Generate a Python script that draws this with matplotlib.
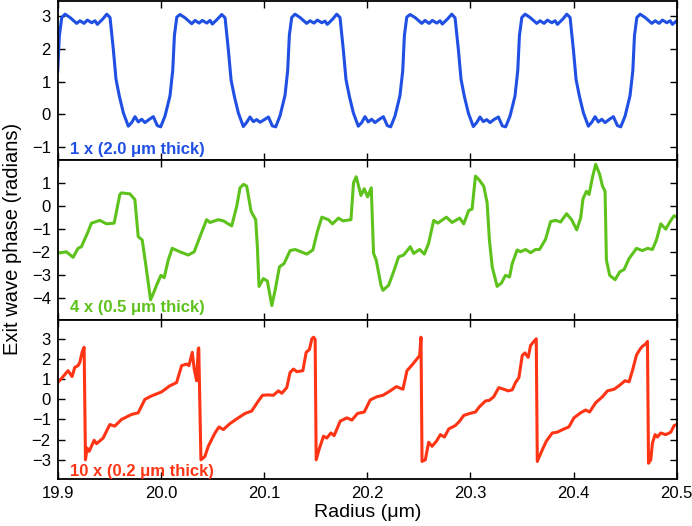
import matplotlib
matplotlib.use("Agg")
import matplotlib.pyplot as plt

plt.rcParams['font.family'] = ['Liberation Sans', 'DejaVu Sans']

# 1 x (2.0 um thick) - blue, binary-like profile
r_1x = [19.900, 19.9016, 19.9039, 19.9071, 19.9119, 19.9184, 19.9216, 19.9255, 19.9287, 19.933, 19.9362, 19.9384,
        19.9436, 19.9475, 19.9507, 19.9539, 19.9565, 19.9597, 19.9636, 19.9684, 19.9717, 19.9749, 19.9781, 19.9814,
        19.9846, 19.9888, 19.9927, 19.9965, 19.9998, 20.004, 20.0088,
        20.0115, 20.0131, 20.0154, 20.0186, 20.0234, 20.0299, 20.0331, 20.037, 20.0402, 20.0445, 20.0477, 20.0499,
        20.0551, 20.059, 20.0622, 20.0654, 20.068, 20.0712, 20.0751, 20.0799, 20.0832, 20.0864, 20.0896, 20.0929,
        20.0961, 20.1003, 20.1042, 20.108, 20.1113, 20.1155, 20.1203,
        20.1229, 20.1245, 20.1268, 20.13, 20.1348, 20.1413, 20.1445, 20.1484, 20.1516, 20.1559, 20.1591, 20.1613,
        20.1665, 20.1704, 20.1736, 20.1768, 20.1794, 20.1826, 20.1865, 20.1913, 20.1946, 20.1978, 20.201, 20.2043,
        20.2075, 20.2117, 20.2156, 20.2194, 20.2227, 20.2269, 20.2317,
        20.2344, 20.236, 20.2383, 20.2415, 20.2463, 20.2528, 20.256, 20.2599, 20.2631, 20.2674, 20.2706, 20.2728,
        20.278, 20.2819, 20.2851, 20.2883, 20.2909, 20.2941, 20.298, 20.3028, 20.3061, 20.3093, 20.3125, 20.3158,
        20.319, 20.3232, 20.3271, 20.3309, 20.3342, 20.3384, 20.3432,
        20.3459, 20.3475, 20.3498, 20.353, 20.3578, 20.3643, 20.3675, 20.3714, 20.3746, 20.3789, 20.3821, 20.3843,
        20.3895, 20.3934, 20.3966, 20.3998, 20.4024, 20.4056, 20.4095, 20.4143, 20.4176, 20.4208, 20.424, 20.4273,
        20.4305, 20.4347, 20.4386, 20.4424, 20.4457, 20.4499, 20.4547,
        20.4574, 20.459, 20.4613, 20.4645, 20.4693, 20.4758, 20.479, 20.4829, 20.4861, 20.4904, 20.4936, 20.4958,
        20.500]
phase_1x = [1.32, 2.39, 2.95, 3.05, 2.95, 2.77, 2.85, 2.77, 2.87, 2.79, 2.85, 2.74,
            2.90, 3.05, 2.95, 1.98, 1.07, 0.56, 0.05, -0.36, -0.25, -0.07, -0.23, -0.15,
            -0.25, -0.15, -0.07, -0.34, -0.38, -0.05, 0.56,
            1.35, 2.40, 2.96, 3.04, 2.94, 2.76, 2.86, 2.78, 2.86, 2.78, 2.86, 2.75,
            2.91, 3.04, 2.94, 1.96, 1.05, 0.55, 0.04, -0.37, -0.24, -0.08, -0.22, -0.16,
            -0.24, -0.16, -0.08, -0.35, -0.38, -0.04, 0.58,
            1.34, 2.41, 2.95, 3.05, 2.95, 2.77, 2.85, 2.78, 2.87, 2.79, 2.84, 2.74,
            2.90, 3.05, 2.95, 1.97, 1.06, 0.56, 0.05, -0.36, -0.25, -0.07, -0.23, -0.15,
            -0.25, -0.15, -0.07, -0.34, -0.38, -0.05, 0.57,
            1.33, 2.40, 2.96, 3.04, 2.95, 2.77, 2.86, 2.77, 2.86, 2.78, 2.85, 2.75,
            2.91, 3.05, 2.94, 1.98, 1.07, 0.55, 0.04, -0.37, -0.25, -0.08, -0.22, -0.16,
            -0.25, -0.15, -0.08, -0.35, -0.38, -0.05, 0.56,
            1.34, 2.40, 2.95, 3.05, 2.95, 2.77, 2.85, 2.77, 2.87, 2.79, 2.85, 2.74,
            2.90, 3.05, 2.95, 1.97, 1.06, 0.56, 0.05, -0.36, -0.24, -0.07, -0.23, -0.15,
            -0.25, -0.15, -0.07, -0.34, -0.38, -0.05, 0.57,
            1.33, 2.40, 2.95, 3.05, 2.95, 2.77, 2.85, 2.77, 2.87, 2.79, 2.85, 2.74,
            2.85]

# 4 x (0.5 um thick) - green
r_4x = [19.900, 19.9084, 19.9149, 19.9197, 19.923, 19.9295, 19.9327, 19.9408, 19.9473, 19.9547, 19.9602, 19.9618,
        19.9699, 19.9748, 19.978, 19.9819, 19.9861, 19.990, 19.9932, 19.9958, 20.000, 20.0032, 20.0071, 20.011,
        20.0184, 20.0265, 20.0323, 20.0379, 20.0443, 20.0476, 20.0556, 20.0605, 20.0686, 20.0735, 20.0767, 20.080,
        20.0832, 20.0874, 20.0919, 20.0935, 20.0951, 20.0993, 20.1032, 20.1075, 20.1107, 20.1149, 20.1194, 20.1252,
        20.1301, 20.1414, 20.1473, 20.1517, 20.156, 20.1624, 20.1663, 20.1721, 20.1764, 20.1842, 20.1867, 20.1893,
        20.1939, 20.1971, 20.2003, 20.2039, 20.2061, 20.2087, 20.2133, 20.2152, 20.2207, 20.2255, 20.2304, 20.2353,
        20.2417, 20.245, 20.2508, 20.2553, 20.2595, 20.2644, 20.2683, 20.2767, 20.2822, 20.2896, 20.2935, 20.2984,
        20.3016, 20.3049, 20.3087, 20.3129, 20.3162, 20.3184, 20.3211, 20.3259, 20.3301, 20.334, 20.3379, 20.3405,
        20.3453, 20.3485, 20.3534, 20.3583, 20.3631, 20.367, 20.3728, 20.3777, 20.3825, 20.3874, 20.3932, 20.3981,
        20.403, 20.4068, 20.4091, 20.4124, 20.415, 20.4182, 20.4214, 20.4253, 20.428, 20.4305, 20.4318, 20.435,
        20.4402, 20.4447, 20.4489, 20.4538, 20.461, 20.4667, 20.4716, 20.4764, 20.4803, 20.4845, 20.4893, 20.4942,
        20.4974, 20.500]
phase_4x = [-2.05, -1.99, -2.23, -1.84, -1.77, -1.11, -0.75, -0.63, -0.78, -0.75, 0.49, 0.56,
            0.52, 0.27, -1.33, -1.48, -2.79, -4.07, -3.74, -3.44, -3.01, -3.11, -2.35, -1.84,
            -1.99, -2.13, -1.99, -1.33, -0.60, -0.72, -0.60, -0.65, -0.87, -0.02, 0.78, 0.93,
            0.85, -0.24, -0.60, -1.77, -3.49, -3.15, -3.26, -4.32, -3.66, -2.64, -2.50, -1.94,
            -1.89, -2.09, -1.91, -1.11, -0.49, -0.60, -0.78, -0.53, -0.65, -0.60, 1.00, 1.26,
            0.45, 0.74, 0.39, 0.78, -2.06, -2.35, -3.44, -3.66, -3.44, -2.86, -2.21, -2.13,
            -1.77, -2.06, -1.89, -2.09, -1.62, -0.63, -0.75, -0.49, -0.72, -0.53, -0.78, -0.20,
            -0.14, 1.29, 1.11, 0.85, 0.13, -1.48, -2.64, -3.49, -3.34, -3.01, -3.08, -2.50,
            -1.91, -1.99, -1.89, -2.03, -1.89, -1.89, -1.45, -0.68, -0.63, -0.70, -0.34, -0.60,
            -1.04, -0.53, 0.30, 0.63, 0.49, 1.22, 1.80, 1.36, 0.85, 0.63, -2.35, -3.01,
            -3.20, -2.86, -2.76, -2.28, -1.84, -1.94, -1.84, -1.89, -1.48, -0.78, -1.01, -0.63,
            -0.43, -0.49]

# 10 x (0.2 um thick) - red, wrapped phase ramps
r_10x = [19.900, 19.9036, 19.910, 19.9139, 19.9165, 19.9197, 19.9214, 19.9236, 19.9256, 19.9269, 19.9285, 19.9304,
         19.9327, 19.9353, 19.9376, 19.944, 19.9505, 19.9553, 19.9618, 19.9715, 19.978, 19.9845, 19.991, 20.0007,
         20.0087, 20.0152, 20.0201, 20.0249, 20.0272, 20.0304, 20.0323, 20.0346, 20.0362, 20.0367, 20.0388, 20.0427,
         20.0459, 20.0524, 20.0563, 20.0605, 20.067, 20.0735, 20.0816, 20.088, 20.0945, 20.0985, 20.1035, 20.109,
         20.1139, 20.1172, 20.122, 20.1252, 20.1285, 20.1317, 20.1376, 20.1408, 20.144, 20.1463, 20.148, 20.1495,
         20.1505, 20.1537, 20.1576, 20.1608, 20.1647, 20.1679, 20.1738, 20.1803, 20.1851, 20.1906, 20.1971, 20.2029,
         20.2094, 20.2152, 20.2223, 20.2282, 20.2346, 20.2385, 20.2434, 20.2482, 20.2508, 20.2521, 20.2531, 20.2563,
         20.2595, 20.2628, 20.267, 20.2709, 20.2748, 20.279, 20.2854, 20.2896, 20.2935, 20.2993, 20.3049, 20.3087,
         20.3146, 20.3184, 20.3226, 20.3275, 20.3323, 20.3366, 20.3405, 20.3437, 20.347, 20.3502, 20.3528, 20.356,
         20.3583, 20.3615, 20.3638, 20.3648, 20.369, 20.3735, 20.3793, 20.3842, 20.3906, 20.3954, 20.4003, 20.4068,
         20.4117, 20.4155, 20.4214, 20.428, 20.4328, 20.4393, 20.4447, 20.4498, 20.4538, 20.457, 20.461, 20.4642,
         20.4667, 20.470, 20.4716, 20.4726, 20.4748, 20.4764, 20.479, 20.4812, 20.4845, 20.4893, 20.4942, 20.4974,
         20.500]
phase_10x = [0.83, 1.03, 1.42, 1.13, 1.58, 1.67, 1.83, 2.33, 2.58, -3.00, -2.42, -2.58,
             -2.33, -2.03, -2.20, -1.92, -1.25, -1.33, -1.00, -0.75, -0.67, 0.00, 0.17, 0.37,
             0.67, 0.83, 1.67, 1.75, 1.67, 2.33, 1.50, 0.92, 2.50, 2.55, -3.00, -2.83,
             -2.33, -1.67, -1.37, -1.50, -1.20, -0.97, -0.70, -0.58, -0.08, 0.20, 0.22, 0.20,
             0.42, 0.30, 0.58, 1.33, 1.50, 1.37, 1.42, 2.33, 2.47, 3.00, 3.08, 2.97,
             -3.00, -2.42, -1.83, -1.92, -1.67, -1.80, -1.08, -0.92, -1.03, -0.70, -0.63, -0.03,
             0.13, 0.20, 0.42, 0.63, 0.50, 1.42, 1.70, 2.00, 2.17, 3.08, -3.08, -3.00,
             -2.13, -2.33, -2.08, -1.75, -1.87, -1.47, -1.30, -1.08, -0.80, -0.70, -0.63, -0.37,
             -0.08, -0.05, 0.13, 0.58, 0.50, 0.42, 0.47, 0.83, 1.08, 2.17, 2.30, 2.08,
             2.67, 2.87, 3.00, -3.08, -2.58, -2.08, -1.67, -1.63, -1.47, -1.37, -0.92, -0.67,
             -0.53, -0.63, -0.17, 0.13, 0.42, 0.50, 0.70, 0.92, 0.87, 1.42, 2.20, 2.47,
             2.63, 2.75, 2.87, -3.17, -3.00, -2.17, -1.75, -1.87, -1.67, -1.75, -1.63, -1.30,
             -1.25]

labels = ['1 x (2.0 \u03bcm thick)', '4 x (0.5 \u03bcm thick)', '10 x (0.2 \u03bcm thick)']
colors = ['#1f4fe3', '#5ec21c', '#ff3415']
ylims = [(-1.4, 3.45), (-4.93, 1.97), (-3.95, 3.95)]
yticks = [[-1, 0, 1, 2, 3], [-4, -3, -2, -1, 0, 1], [-3, -2, -1, 0, 1, 2, 3]]
label_y = [0.04, 0.045, 0.02]
xticks = [19.9, 20.0, 20.1, 20.2, 20.3, 20.4, 20.5]

fig, axes = plt.subplots(3, 1, figsize=(6.92, 5.26), dpi=100, sharex=True)
fig.subplots_adjust(left=0.0834, right=0.978, top=0.998, bottom=0.0894, hspace=0)

series = [(r_1x, phase_1x), (r_4x, phase_4x), (r_10x, phase_10x)]
for i, ax in enumerate(axes):
    x, y = series[i]
    ax.plot(x, y, color=colors[i], lw=2.2, solid_joinstyle='round')
    ax.set_xlim(19.9, 20.5)
    ax.set_ylim(*ylims[i])
    ax.set_yticks(yticks[i])
    ax.set_xticks(xticks)
    ax.tick_params(direction='in', top=True, right=True, length=5, width=1,
                   labelsize=12, pad=5)
    for sp in ax.spines.values():
        sp.set_linewidth(1.3)
    ax.text(0.02, label_y[i], labels[i], transform=ax.transAxes, color=colors[i],
            fontsize=12, fontweight='bold', va='baseline', ha='left')

axes[2].set_xticklabels(['%.1f' % t for t in xticks])
axes[2].set_xlabel('Radius (\u03bcm)', fontsize=14, labelpad=2)
fig.text(0.018, 0.545, 'Exit wave phase (radians)', rotation=90, fontsize=14.5,
         ha='center', va='center')

fig.savefig('out.png', dpi=100)
